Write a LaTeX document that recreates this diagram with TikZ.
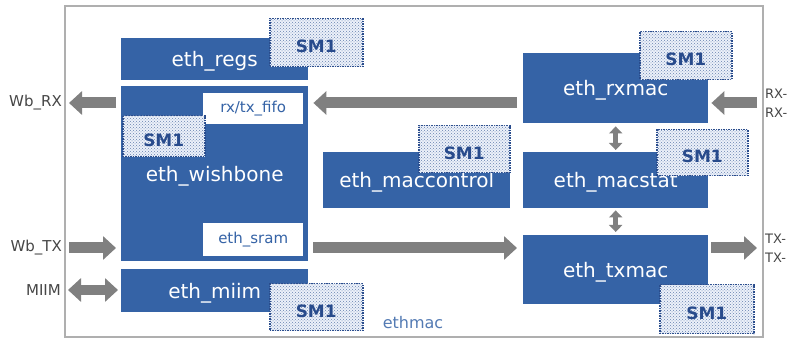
\documentclass[tikz,border=0pt]{standalone}
\usepackage{fontspec}
\setmainfont{DejaVu Sans}
\usetikzlibrary{arrows.meta,patterns}
\definecolor{macblue}{RGB}{53,99,166}
\definecolor{smblue}{RGB}{40,75,140}
\definecolor{smfill}{RGB}{236,241,250}
\definecolor{busgray}{RGB}{128,128,128}
\definecolor{framegray}{RGB}{175,175,175}
\definecolor{portgray}{RGB}{70,70,70}
\tikzset{
  macpicture/.style={x=1pt, y=-1pt},
  macframe/.style={draw=framegray, line width=1.6pt},
  macbox/.style={fill=macblue, text=white, anchor=north west, inner sep=0pt, text height=17pt, text depth=2pt, font=\fontsize{20}{24}\selectfont},
  macbuf/.style={fill=white, text=macblue, anchor=north west, inner sep=0pt, font=\fontsize{15}{18}\selectfont},
  macsm/.style={fill=smfill, draw=smblue, densely dotted, line width=1.5pt, text=smblue, anchor=north west, inner sep=0pt,
    text height=20pt, text depth=0pt, minimum width=93pt, minimum height=48pt, font=\bfseries\fontsize{17}{20}\selectfont,
    postaction={pattern=crosshatch dots, pattern color=smblue!70}},
  macport/.style={text=portgray, inner sep=0pt, font=\fontsize{15}{18}\selectfont},
  macpins/.style={macport, align=left, anchor=west, font=\fontsize{13}{19}\selectfont},
  macname/.style={text=macblue!85, inner sep=0pt, font=\fontsize{16}{19}\selectfont},
  macbus/.style={draw=busgray, line width=11pt, -{Triangle[length=13pt, width=23pt]}},
  macbusboth/.style={macbus, {Triangle[length=13pt, width=23pt]}-{Triangle[length=13pt, width=23pt]}},
  maclink/.style={draw=busgray, line width=5pt, {Triangle[length=7pt, width=13pt]}-{Triangle[length=7pt, width=13pt]}}
}
\begin{document}
\begin{tikzpicture}[macpicture]
\useasboundingbox (0,0) rectangle (788,339);
\draw[macframe] (65,6) rectangle (763,337);
\node[macname] (ethmac) at (413,323) {ethmac};

% left column
\node[macbox, minimum width=187pt, minimum height=42pt] (regs) at (121,38) {eth\_regs};
\node[macbox, minimum width=187pt, minimum height=175pt] (wishbone) at (121,86) {eth\_wishbone};
\node[macbuf, minimum width=100pt, minimum height=31pt] (fifo) at (203,93) {rx/tx\_fifo};
\node[macbuf, minimum width=100pt, minimum height=33pt] (sram) at (203,223) {eth\_sram};
\node[macbox, minimum width=187pt, minimum height=43pt] (miim) at (121,269) {eth\_miim};

% middle and right column
\node[macbox, minimum width=187pt, minimum height=56pt] (maccontrol) at (323,152) {eth\_maccontrol};
\node[macbox, minimum width=185pt, minimum height=70pt] (rxmac) at (523,53) {eth\_rxmac};
\node[macbox, minimum width=185pt, minimum height=56pt] (macstat) at (523,152) {eth\_macstat};
\node[macbox, minimum width=185pt, minimum height=69pt] (txmac) at (523,235) {eth\_txmac};

% SM1 tags
\node[macsm] (smregs) at (269,18) {SM1};
\node[macsm, minimum width=82pt, minimum height=41pt] (smwishbone) at (122,115) {SM1};
\node[macsm, minimum height=47pt] (smmiim) at (269,283) {SM1};
\node[macsm, minimum width=91pt, minimum height=47pt] (smmaccontrol) at (418,125) {SM1};
\node[macsm, minimum width=92pt] (smrxmac) at (639,31) {SM1};
\node[macsm, minimum width=91pt, minimum height=46pt] (smmacstat) at (656,129) {SM1};
\node[macsm, minimum width=94pt, minimum height=49pt] (smtxmac) at (659,284) {SM1};

% ports
\node[macport, anchor=east] (wbrx) at (62,103) {Wb\_RX};
\node[macport, anchor=east] (wbtx) at (62,248) {Wb\_TX};
\node[macport, anchor=east] (miimport) at (61,290) {MIIM};
\node[macpins] (rxport) at (765,103) {RX-\\RX-};
\node[macpins] (txport) at (765,248) {TX-\\TX-};

% buses
\draw[macbus, shorten <=5pt, shorten >=7pt] (wishbone.west |- wbrx) -- (wbrx.east);
\draw[macbus, shorten <=7pt, shorten >=5pt] (wbtx.east) -- (wishbone.west |- wbtx);
\draw[macbusboth, line width=10pt, shorten <=7pt, shorten >=3pt] (miimport.east) -- (miim.west |- miimport);
\draw[macbus, shorten <=6pt, shorten >=5pt] (rxmac.west |- wbrx) -- (wishbone.east |- wbrx);
\draw[macbus, shorten <=5pt, shorten >=6pt] (wishbone.east |- wbtx) -- (txmac.west |- wbtx);
\draw[macbus, shorten <=8pt, shorten >=3pt] (rxport.west) -- (rxmac.east |- rxport);
\draw[macbus, shorten <=3pt, shorten >=8pt] (txmac.east |- txport) -- (txport.west);
\draw[maclink, shorten <=3pt, shorten >=2pt] (rxmac.south) -- (macstat.north);
\draw[maclink, shorten <=2pt, shorten >=3pt] (macstat.south) -- (txmac.north);
\end{tikzpicture}
\end{document}
